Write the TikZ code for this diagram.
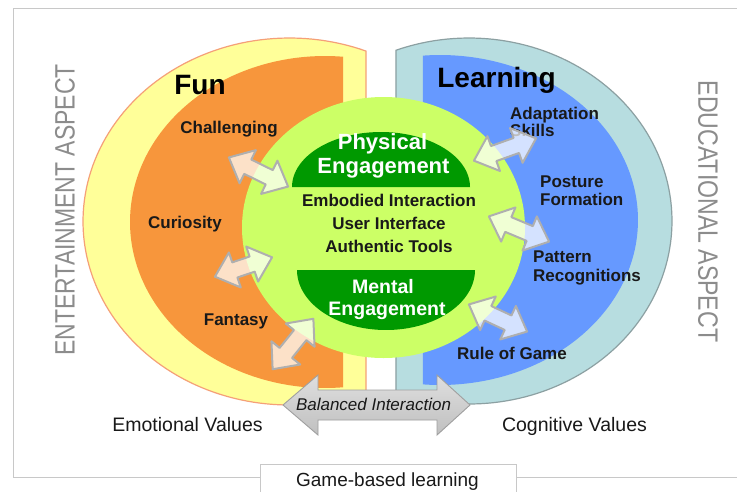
\documentclass[tikz,border=0pt]{standalone}
\usepackage{fontspec}
\setmainfont{Liberation Sans}
\definecolor{yelF}{RGB}{255,255,153}
\definecolor{yelL}{RGB}{245,160,120}
\definecolor{oraF}{RGB}{247,150,60}
\definecolor{tealF}{RGB}{183,221,224}
\definecolor{tealL}{RGB}{140,160,162}
\definecolor{bluF}{RGB}{102,153,255}
\definecolor{lgrF}{RGB}{204,255,102}
\definecolor{dgrF}{RGB}{0,153,0}
\definecolor{frameC}{RGB}{200,200,200}
\definecolor{aspC}{RGB}{140,140,140}
\definecolor{arrL}{RGB}{175,175,175}
\definecolor{txtC}{RGB}{25,25,25}
\tikzset{
  lbl/.style={font=\fontsize{17}{18.5}\selectfont\bfseries, text=txtC, inner sep=0pt},
  titl/.style={font=\fontsize{28}{30}\selectfont\bfseries, text=black, inner sep=0pt},
  engtxt/.style={font=\fontsize{22}{23}\selectfont\bfseries, text=white, inner sep=0pt, align=center},
  valtxt/.style={font=\fontsize{19.5}{21}\selectfont, text=txtC, inner sep=0pt},
  asptxt/.style={text=aspC, inner sep=0pt},
  smarrow/.style={fill=white, fill opacity=0.72, draw=arrL, line width=2pt, line join=round},
  framel/.style={draw=frameC, line width=1pt},
}
\newcommand\smallarrow[4]{%
  \pgfmathsetmacro\sAng{atan2((#4)-(#2),(#3)-(#1))}%
  \pgfmathsetmacro\sLen{veclen((#3)-(#1),(#4)-(#2))}%
  \pgfmathsetmacro\sB{\sLen-22}%
  \begin{scope}[shift={(#1,#2)},rotate=-\sAng]
    \draw[smarrow] (1,0) -- (22,18.5) -- (22,8) -- (\sB,8) -- (\sB,18.5) -- (\sLen-1,0) -- (\sB,-18.5) -- (\sB,-8) -- (22,-8) -- (22,-18.5) -- cycle;
  \end{scope}}
\begin{document}
\begin{tikzpicture}[x=1pt,y=-1pt]
\useasboundingbox (0,0) rectangle (737,491);
\fill[white] (0,0) rectangle (737,491);
% frame
\draw[framel] (13,477) -- (13,8) -- (737,8);
\draw[framel] (13,477) -- (260,477);
\draw[framel] (516,477) -- (737,477);
\draw[framel] (260,495) -- (260,464) -- (516,464) -- (516,495);
% Fun side
\draw[fill=yelF, draw=yelL, line width=1.2pt] plot[domain=68.25:291.75, samples=120] ({289.5+206.5*cos(\x)},{221.5+183.5*sin(\x)}) -- cycle;
\fill[oraF] plot[domain=84.7:275.3, samples=120] ({325+195*cos(\x)},{222+166*sin(\x)}) -- cycle;
% Learning side
\draw[fill=tealF, draw=tealL, line width=1.2pt] plot[domain=-111.08:111.08, samples=120] ({469+203*cos(\x)},{221+183*sin(\x)}) -- cycle;
\fill[bluF] plot[domain=-94.93:94.93, samples=120] ({440+198*cos(\x)},{220+165*sin(\x)}) -- cycle;
% centre
\fill[lgrF] (383.5,227.5) ellipse [x radius=141.5, y radius=130.5];
\fill[dgrF] plot[domain=180:360, samples=80] ({381+89*cos(\x)},{187+55*sin(\x)}) -- cycle;
\fill[dgrF] plot[domain=0:180, samples=80] ({386+89*cos(\x)},{270+60*sin(\x)}) -- cycle;
% titles
\node[titl, anchor=base] (fun) at (200,94) {Fun};
\node[titl, anchor=base] (learning) at (496.5,87) {Learning};
\node[engtxt, anchor=base] (phys1) at (382.5,149.3) {Physical};
\node[engtxt, anchor=base] (phys2) at (383.5,173.3) {Engagement};
\node[engtxt, anchor=base, font=\fontsize{19.5}{21}\selectfont\bfseries] (ment1) at (383,293.3) {Mental};
\node[engtxt, anchor=base, font=\fontsize{19.5}{21}\selectfont\bfseries] (ment2) at (387,315) {Engagement};
\node[lbl, anchor=base] (emb) at (389,206) {Embodied Interaction};
\node[lbl, anchor=base] (ui) at (389,229) {User Interface};
\node[lbl, anchor=base] (auth) at (389,252.7) {Authentic Tools};
% fun labels
\node[lbl, anchor=base] (chal) at (229,133) {Challenging};
\node[lbl, anchor=base] (curi) at (185,228) {Curiosity};
\node[lbl, anchor=base] (fant) at (236,325.7) {Fantasy};
% learning labels
\node[lbl, anchor=base west] (adap1) at (510,119) {Adaptation};
\node[lbl, anchor=base west] (adap2) at (510,136.7) {Skills};
\node[lbl, anchor=base west] (post1) at (540,187.3) {Posture};
\node[lbl, anchor=base west] (post2) at (540,205.7) {Formation};
\node[lbl, anchor=base west] (patt1) at (533,262.3) {Pattern};
\node[lbl, anchor=base west] (patt2) at (533,281.7) {Recognitions};
\node[lbl, anchor=base] (rule) at (512,359) {Rule of Game};
% small arrows
\smallarrow{228}{157}{289}{187}
\smallarrow{214}{277}{273}{257}
\smallarrow{272}{370}{314}{318}
\smallarrow{473}{161}{537}{138}
\smallarrow{488}{216}{550}{242}
\smallarrow{468}{304}{528}{332}
% balanced interaction arrow
\draw[draw=gray!75, line width=0.9pt, top color=gray!25, middle color=gray!4, bottom color=gray!50]
  (283,405) -- (318,375) -- (318,390) -- (437,390) -- (437,375) -- (470,405) -- (437,435) -- (437,420) -- (318,420) -- (318,435) -- cycle;
\node[anchor=base, inner sep=0pt, text=txtC, font=\fontsize{17}{18}\selectfont\itshape] (bal) at (373.5,410.7) {Balanced Interaction};
% values
\node[valtxt, anchor=base] (emo) at (187.5,431) {Emotional Values};
\node[valtxt, anchor=base] (cog) at (574.5,431) {Cognitive Values};
\node[valtxt, anchor=base, font=\fontsize{19}{21}\selectfont] (gbl) at (387.5,486.7) {Game-based learning};
% aspects
\node[asptxt, rotate=90] (ent) at (65,210) {\scalebox{0.82}[1]{\fontsize{28}{28}\selectfont ENTERTAINMENT ASPECT}};
\node[asptxt, rotate=-90] (edu) at (708,211.5) {\scalebox{0.825}[1]{\fontsize{28}{28}\selectfont EDUCATIONAL ASPECT}};
\end{tikzpicture}
\end{document}
